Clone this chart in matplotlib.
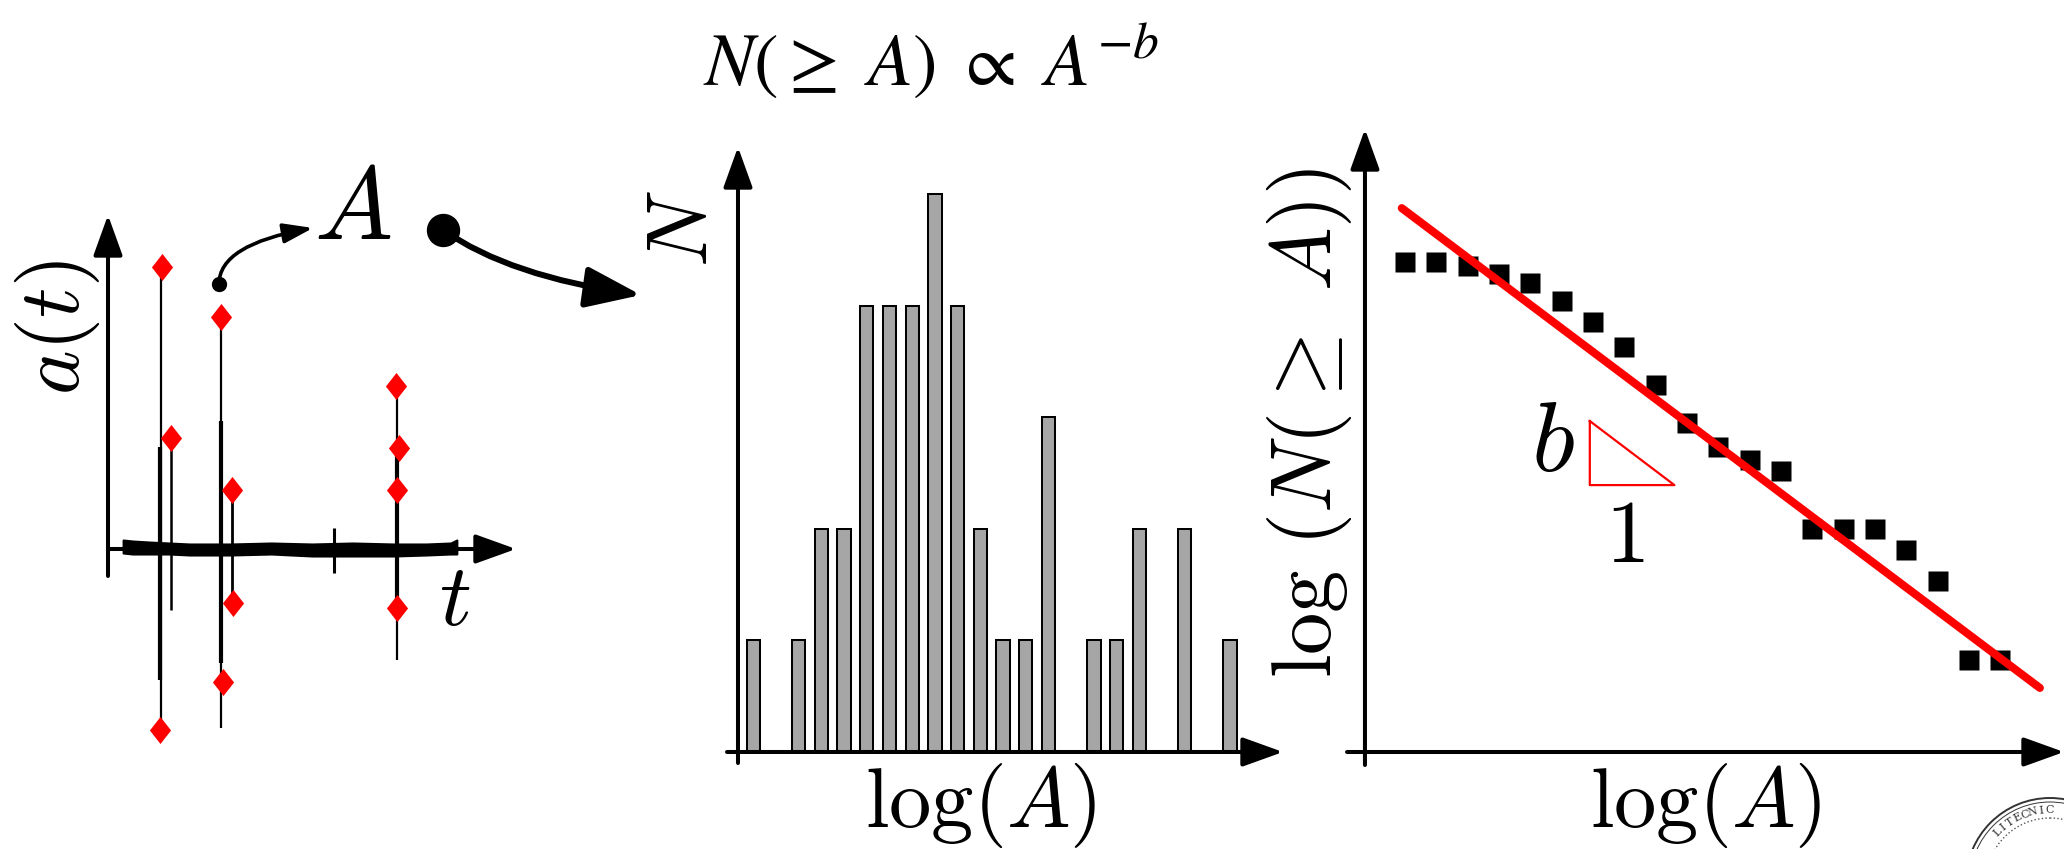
import numpy as np
import matplotlib.pyplot as plt
from matplotlib.path import Path
from matplotlib.patches import FancyArrowPatch, Circle

plt.rcParams['mathtext.fontset'] = 'cm'
plt.rcParams['font.family'] = 'DejaVu Serif'

W, H = 2064, 849  # output size in pixels (dpi 100)

# ---- left panel: recorded signal a(t) and picked peak amplitudes ----
noise_t = [0.037, 0.06, 0.10, 0.15, 0.20, 0.30, 0.40, 0.50, 0.60, 0.70, 0.78, 0.84, 0.855]
noise_hi = [0.09, 0.08, 0.07, 0.06, 0.05, 0.05, 0.06, 0.05, 0.06, 0.05, 0.05, 0.06, 0.09]
noise_lo = [-0.04, -0.05, -0.05, -0.05, -0.06, -0.06, -0.05, -0.07, -0.07, -0.07, -0.06, -0.05, -0.05]

spike_t = [0.130, 0.154, 0.277, 0.304, 0.708, 0.554]
spike_top = [2.82, 1.11, 2.32, 0.59, 1.63, 0.21]
spike_bot = [-1.81, -0.61, -1.79, -0.54, -1.11, -0.24]
spike_lw = [1.6, 1.8, 1.6, 2.0, 1.6, 2.2]

core_t = [0.128, 0.278, 0.709]
core_top = [1.02, 1.28, 1.01]
core_bot = [-1.31, -1.14, -0.68]

pick_t = [0.132, 0.127, 0.154, 0.277, 0.282, 0.304, 0.306, 0.706, 0.713, 0.708, 0.708]
pick_a = [2.82, -1.81, 1.11, 2.32, -1.33, 0.59, -0.54, 1.63, 1.01, 0.59, -0.59]

# ---- middle panel: histogram of log(A) ----
bins = list(range(22))
counts = [1, 0, 1, 2, 2, 4, 4, 4, 5, 4, 2, 1, 1, 3, 0, 1, 1, 2, 0, 2, 0, 1]

# ---- right panel: cumulative count, log-log ----
logA = [1, 2, 3, 4, 5, 6, 7, 8, 9, 10, 11, 12, 13, 14, 15, 16, 17, 18, 19, 20]
logN = [15.61, 15.61, 15.48, 15.22, 14.94, 14.36, 13.69, 12.90, 11.69, 10.48,
        9.71, 9.30, 8.95, 7.10, 7.10, 7.10, 6.43, 5.45, 2.93, 2.93]
fit_x = [0.9, 21.26]
fit_y = [17.32, 2.04]
tri_x = [6.9, 6.9, 9.6, 6.9]
tri_y = [10.54, 8.5, 8.5, 10.54]


def box(l, t, r, b):
    # pixel box (y down) -> figure fraction rect
    return [l / W, 1 - b / H, (r - l) / W, (b - t) / H]


def axis_arrow(ax, start, end, lw=2.9, hl=2.5, hw=0.9):
    ax.annotate('', xy=end, xytext=start,
                arrowprops=dict(arrowstyle=f'-|>,head_length={hl},head_width={hw}',
                                lw=lw, color='k', shrinkA=0, shrinkB=0,
                                mutation_scale=10),
                annotation_clip=False, zorder=5)


fig = plt.figure(figsize=(W / 100, H / 100), dpi=100)

# overlay in pixel coordinates for labels and the flow arrows
ov = fig.add_axes([0, 0, 1, 1])
ov.set_xlim(0, W)
ov.set_ylim(H, 0)
ov.axis('off')

# left panel
ax1 = fig.add_axes(box(108, 215, 516, 740))
ax1.set_xlim(0, 1)
ax1.set_ylim(-1.91, 3.34)
ax1.axis('off')
axis_arrow(ax1, (0, 0), (1, 0))
axis_arrow(ax1, (0, -0.27), (0, 3.34))
ax1.fill_between(noise_t, noise_lo, noise_hi, color='k', lw=1.5, zorder=6)
ax1.vlines(spike_t, spike_bot, spike_top, colors='k', lw=spike_lw, zorder=6)
ax1.vlines(core_t, core_bot, core_top, colors='k', lw=3.0, zorder=6)
diamond = Path([(0, 1), (0.78, 0), (0, -1), (-0.78, 0), (0, 1)],
               [Path.MOVETO, Path.LINETO, Path.LINETO, Path.LINETO, Path.CLOSEPOLY])
ax1.plot(pick_t, pick_a, ls='none', marker=diamond, ms=19.5, mfc='#ff0000',
         mec='none', zorder=7, clip_on=False)

# middle panel
ax2 = fig.add_axes(box(727, 147, 1283, 763))
ax2.set_xlim(-1.158, 23.33)
ax2.set_ylim(-0.0986, 5.42)
ax2.axis('off')
ax2.bar(bins, counts, width=0.586, color='#a6a6a6', edgecolor='k',
        linewidth=1.45, zorder=2)
axis_arrow(ax2, (-1.158, 0), (23.33, 0))
axis_arrow(ax2, (-0.674, -0.0986), (-0.674, 5.42))

# right panel
ax3 = fig.add_axes(box(1347, 129, 2064, 765))
ax3.set_xlim(-0.847, 22.03)
ax3.set_ylim(-0.414, 19.84)
ax3.axis('off')
ax3.plot(logA, logN, ls='none', marker='s', ms=15, mfc='k', mec='none',
         zorder=3, clip_on=False)
ax3.plot(fit_x, fit_y, color='#ff0000', lw=5.8, solid_capstyle='round',
         zorder=4, clip_on=False)
ax3.plot(tri_x, tri_y, color='#ff0000', lw=1.6, zorder=4)
ax3.text(5.72, 9.81, r'$b$', fontsize=72, ha='center', va='center')
ax3.text(8.01, 6.85, r'$1$', fontsize=64, ha='center', va='center')
axis_arrow(ax3, (-0.847, 0), (22.03, 0))
axis_arrow(ax3, (-0.274, -0.414), (-0.274, 19.84))

# flow from the signal to the amplitude set
ov.plot([219], [284], 'o', color='k', ms=10)
ov.plot([443], [230], 'o', color='k', ms=23)
ov.add_patch(FancyArrowPatch((219, 284), (313, 228),
                             connectionstyle='angle3,angleA=90,angleB=10',
                             arrowstyle='-|>,head_length=1.8,head_width=0.6',
                             mutation_scale=10, lw=2.6, color='k',
                             shrinkA=0, shrinkB=0))
ov.add_patch(FancyArrowPatch((443, 230), (641, 295),
                             connectionstyle='angle3,angleA=-35,angleB=-8',
                             arrowstyle='-|>,head_length=3.4,head_width=1.26',
                             mutation_scale=10, lw=4.3, color='k',
                             shrinkA=0, shrinkB=0))

# labels
ov.text(57, 328, r'$a(t)$', fontsize=61, rotation=90, ha='center', va='center')
ov.text(353, 210, r'$A$', fontsize=75, ha='center', va='center')
ov.text(455, 600, r'$t$', fontsize=64, ha='center', va='center')
ov.text(684, 229, r'$N$', fontsize=61, rotation=90, ha='center', va='center')
ov.text(931, 62, r'$N(\geq\ A)\ \propto\ A^{-b}$', fontsize=53,
        math_fontfamily='stix', ha='center', va='center')
ov.text(981, 805, r'$\log(A)$', fontsize=61, ha='center', va='center')
ov.text(1706, 805, r'$\log(A)$', fontsize=61, ha='center', va='center')
ov.text(1310, 423, r'$\log\,(N(\geq\ A))$', fontsize=61, rotation=90,
        ha='center', va='center')

# university seal, cut by the corner
cx, cy = 2050, 882
ov.add_patch(Circle((cx, cy), 84, fill=False, lw=1.4, ec='#333333'))
ov.add_patch(Circle((cx, cy), 80, fill=False, lw=0.7, ec='#333333'))
ov.add_patch(Circle((cx, cy), 64, fill=False, lw=1.0, ec='#555555', ls=':'))
seal = 'POLITECNICO DI'
for k, ch in enumerate(seal):
    th = np.deg2rad(150 - 6.6 * k)
    px, py = cx + 72 * np.cos(th), cy - 72 * np.sin(th)
    if py > 836 or px > 2054:
        continue
    ov.text(px, py, ch, fontsize=8, rotation=np.rad2deg(th) - 90,
            ha='center', va='center', color='#333333', family='DejaVu Serif')

fig.savefig('out.png', dpi=100)
